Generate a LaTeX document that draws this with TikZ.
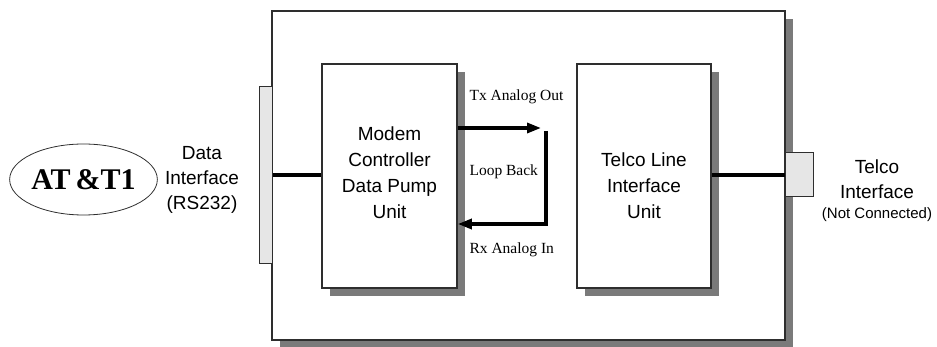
\documentclass[tikz,border=0pt]{standalone}
\usepackage{fontspec}
\setmainfont{Liberation Serif}
\newfontfamily\arialfont{Liberation Sans}
\usepackage{tikz}
\usetikzlibrary{positioning,calc,shadows,arrows.meta,shapes.geometric}
\definecolor{shadowgray}{HTML}{7A7A7A}
\definecolor{edgegray}{HTML}{2E2E2E}
\definecolor{portgray}{HTML}{E6E6E6}

\begin{document}
\begin{tikzpicture}[x=1pt, y=-1pt,
  unitbox/.style={rectangle, draw=edgegray, fill=white, line width=1.6pt,
    minimum width=#1, minimum height=224pt, inner sep=0pt,
    drop shadow={shadow xshift=8pt, shadow yshift=-8pt, fill=shadowgray, opacity=1}},
  port/.style={rectangle, draw=edgegray, fill=portgray, line width=1pt, inner sep=0pt},
  boxtext/.style={font=\arialfont\fontsize{19}{26}\selectfont, align=center},
  sigtext/.style={font=\fontsize{15.5}{18}\selectfont, anchor=west},
  bus/.style={line width=4pt, black},
  sig/.style={line width=3.2pt, black, -{Triangle[length=14pt,width=10pt]}}
]
\useasboundingbox (0,0) rectangle (937,347);
% board
\node[rectangle, draw=edgegray, fill=white, line width=1.8pt,
  minimum width=513pt, minimum height=329pt, inner sep=0pt,
  drop shadow={shadow xshift=8pt, shadow yshift=-8pt, fill=shadowgray, opacity=1}]
  (board) at (528.5,175.5) {};
% units
\node[unitbox=135pt] (modem) at (389.5,176) {};
\node[unitbox=134pt] (telco) at (644,176) {};
\node[boxtext] (modemtxt) at (389.5,173) {Modem\\Controller\\Data Pump\\Unit};
\node[boxtext] (telcotxt) at (644,186) {Telco Line\\Interface\\Unit};
% ports
\node[port, minimum width=13pt, minimum height=177pt] (dataport) at (265.5,175.5) {};
\node[port, minimum width=28pt, minimum height=44pt] (lineport) at (799,175) {};
% outside labels
\node[ellipse, draw=edgegray, line width=0.8pt, minimum width=147pt, minimum height=71pt,
  inner sep=0pt, font=\bfseries\fontsize{30}{30}\selectfont] (att) at (83.5,179.5) {AT\,\&T1};
\node[boxtext, font=\arialfont\fontsize{19}{25}\selectfont] (datalbl) at (202,180)
  {Data\\Interface\\(RS232)};
\node[font=\arialfont\fontsize{19}{25}\selectfont] (telcolbl) at (877,167) {Telco};
\node[font=\arialfont\fontsize{19}{25}\selectfont] (telcolbl2) at (877,192) {Interface};
\node[font=\arialfont\fontsize{15}{18}\selectfont] (telcolbl3) at (877,215) {(Not Connected)};
% connections
\draw[bus] (dataport.east) -- (modem.west |- dataport.east);
\draw[bus] (telco.east |- lineport.west) -- (lineport.west);
% loop back
\coordinate (txend) at (541,128);
\coordinate (loopup) at (546,131);
\coordinate (loopdown) at (546,224);
\draw[sig] (modem.east |- txend) -- (txend);
\draw[sig] (loopup) -- (loopdown) -- (modem.east |- loopdown);
\node[sigtext] (txlbl) at (466,97) {Tx Analog Out};
\node[sigtext] (looplbl) at (466,172) {Loop Back};
\node[sigtext] (rxlbl) at (466,250) {Rx Analog In};
\end{tikzpicture}
\end{document}
